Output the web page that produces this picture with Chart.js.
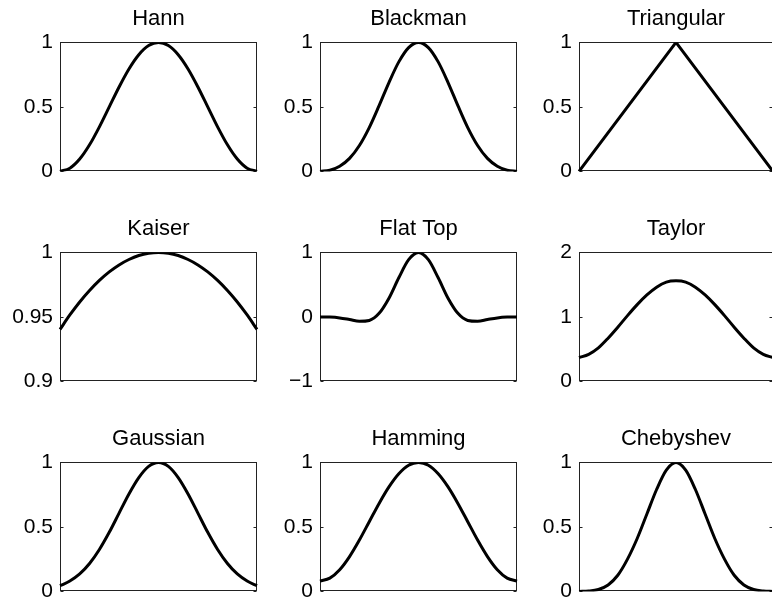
<!DOCTYPE html>
<html>
<head>
<meta charset="utf-8">
<script src="https://cdn.jsdelivr.net/npm/chart.js@4.4.0/dist/chart.umd.min.js"></script>
<style>
  html, body { margin: 0; padding: 0; background: #fff; overflow: hidden; }
  body { width: 772px; height: 609px; position: relative; }
  canvas { position: absolute; }
</style>
</head>
<body>
<script>
// window shapes (equally spaced samples, left to right)
const titles = ["Hann", "Blackman", "Triangular", "Kaiser", "Flat Top", "Taylor", "Gaussian", "Hamming", "Chebyshev"];

const hann = [0, 0.0245, 0.0955, 0.2061, 0.3455, 0.5, 0.6545, 0.7939, 0.9045, 0.9755, 1, 0.9755, 0.9045, 0.7939, 0.6545, 0.5, 0.3455, 0.2061, 0.0955, 0.0245, 0];
const blackman = [0, 0.009, 0.040, 0.101, 0.201, 0.34, 0.51, 0.689, 0.849, 0.960, 1, 0.960, 0.849, 0.689, 0.51, 0.34, 0.201, 0.101, 0.040, 0.009, 0];
const triangular = [0, 1, 0];
const kaiser = [0.9403, 0.9515, 0.9616, 0.9705, 0.9783, 0.9849, 0.9903, 0.9945, 0.9976, 0.9994, 1, 0.9994, 0.9976, 0.9945, 0.9903, 0.9849, 0.9783, 0.9705, 0.9616, 0.9515, 0.9403];
const flatTop = [0, -0.003, -0.016, -0.041, -0.068, -0.055, 0.055, 0.29, 0.607, 0.887, 1, 0.887, 0.607, 0.29, 0.055, -0.055, -0.068, -0.041, -0.016, -0.003, 0];
const taylor = [0.37, 0.42, 0.52, 0.67, 0.84, 1.02, 1.19, 1.34, 1.46, 1.54, 1.56, 1.54, 1.46, 1.34, 1.19, 1.02, 0.84, 0.67, 0.52, 0.42, 0.37];
const gaussian = [0.044, 0.080, 0.135, 0.216, 0.325, 0.458, 0.607, 0.755, 0.882, 0.969, 1, 0.969, 0.882, 0.755, 0.607, 0.458, 0.325, 0.216, 0.135, 0.080, 0.044];
const hamming = [0.08, 0.103, 0.168, 0.270, 0.398, 0.54, 0.682, 0.810, 0.912, 0.978, 1, 0.978, 0.912, 0.810, 0.682, 0.54, 0.398, 0.270, 0.168, 0.103, 0.08];
const chebyshev = [0, 0.003, 0.015, 0.05, 0.125, 0.25, 0.41, 0.6, 0.79, 0.94, 1, 0.94, 0.79, 0.6, 0.41, 0.25, 0.125, 0.05, 0.015, 0.003, 0];

const series = [hann, blackman, triangular, kaiser, flatTop, taylor, gaussian, hamming, chebyshev];

// y tick values and their labels
const unitTicks = [0, 0.5, 1];
const unitLabels = ["0", "0.5", "1"];
const kaiserTicks = [0.9, 0.95, 1];
const kaiserLabels = ["0.9", "0.95", "1"];
const flatTopTicks = [-1, 0, 1];
const flatTopLabels = ["\u22121", "0", "1"];
const taylorTicks = [0, 1, 2];
const taylorLabels = ["0", "1", "2"];

const yTicks = [unitTicks, unitTicks, unitTicks, kaiserTicks, flatTopTicks, taylorTicks, unitTicks, unitTicks, unitTicks];
const yLabels = [unitLabels, unitLabels, unitLabels, kaiserLabels, flatTopLabels, taylorLabels, unitLabels, unitLabels, unitLabels];

const FONT = "'Liberation Sans', Arial, Helvetica, sans-serif";
const colLeft = [0, 260, 519];
const colPadRight = [3, 3, 6];
const rowTop = [0, 210, 420];

// axes box + inward tick marks, like the original figure
const boxPlugin = {
  id: "box",
  beforeDatasetsDraw(chart) {
    const a = chart.chartArea;
    const ctx = chart.ctx;
    const y = chart.scales.y;
    const l = Math.round(a.left) + 0.5, r = Math.round(a.right) - 0.5;
    const t = Math.round(a.top) + 0.5, b = Math.round(a.bottom) - 0.5;
    ctx.save();
    ctx.strokeStyle = "#222";
    ctx.lineWidth = 1;
    ctx.strokeRect(l, t, r - l, b - t);
    ctx.beginPath();
    y.ticks.forEach(tk => {
      const py = Math.round(y.getPixelForValue(tk.value)) + 0.5;
      ctx.moveTo(l, py); ctx.lineTo(l + 3, py);
      ctx.moveTo(r, py); ctx.lineTo(r - 3, py);
    });
    ctx.stroke();
    ctx.restore();
  }
};

function drawPanel(i) {
  const cv = document.createElement("canvas");
  cv.width = 260;
  cv.height = 191;
  cv.style.left = colLeft[i % 3] + "px";
  cv.style.top = rowTop[Math.floor(i / 3)] + "px";
  document.body.appendChild(cv);

  const values = series[i];
  const ticks = yTicks[i];
  const labels = yLabels[i];
  const straight = values.length < 5;

  new Chart(cv, {
    type: "line",
    data: {
      labels: values.map((v, k) => k),
      datasets: [{
        data: values,
        borderColor: "#000",
        borderWidth: 3,
        pointRadius: 0,
        fill: false,
        tension: straight ? 0 : 0.4,
        cubicInterpolationMode: straight ? "default" : "monotone"
      }]
    },
    options: {
      responsive: false,
      animation: false,
      layout: { padding: { left: 0, right: colPadRight[i % 3], top: 0, bottom: 16 } },
      plugins: {
        legend: { display: false },
        tooltip: { enabled: false },
        title: {
          display: true,
          fullSize: false,
          text: titles[i],
          color: "#000",
          font: { family: FONT, size: 22, weight: "normal", lineHeight: 1.2 },
          padding: { top: 6, bottom: 10 }
        }
      },
      scales: {
        x: { display: false },
        y: {
          min: ticks[0],
          max: ticks[ticks.length - 1],
          afterBuildTicks: s => { s.ticks = ticks.map(v => ({ value: v })); },
          afterFit: s => { s.width = 60; },
          grid: { display: false, drawTicks: false },
          border: { display: false },
          ticks: {
            color: "#000",
            padding: 7,
            autoSkip: false,
            font: { family: FONT, size: 21 },
            callback: (v, idx) => labels[idx]
          }
        }
      }
    },
    plugins: [boxPlugin]
  });
}

for (let i = 0; i < 9; i++) drawPanel(i);
</script>
</body>
</html>
